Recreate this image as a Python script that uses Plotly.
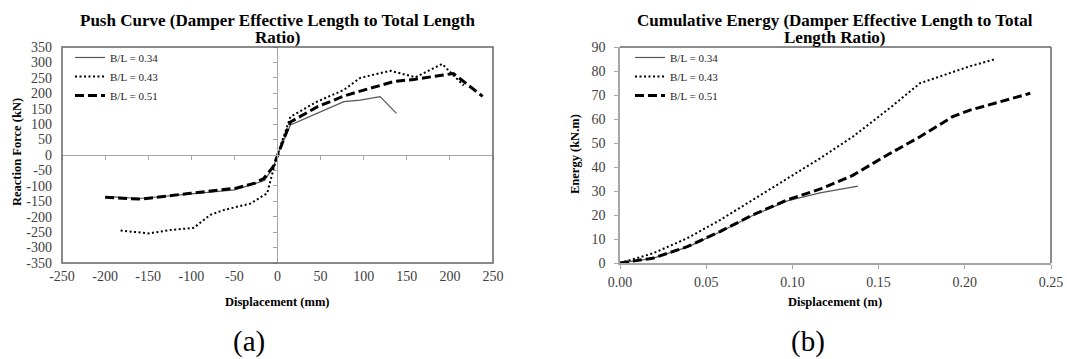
import plotly.graph_objects as go

# ---------------- data ----------------
series_names = ["B/L = 0.34", "B/L = 0.43", "B/L = 0.51"]

# (a) Push curve: displacement (mm) vs reaction force (kN)
push_d_034 = [-195, -160, -100, -50, -30, -15, -5, 0, 15, 46, 77, 96, 119, 138]
push_f_034 = [-135, -141, -126, -113, -96, -83, -40, 0, 97, 135, 173, 178, 189, 135]

push_d_043 = [-182, -149, -124, -97, -78, -62, -31, -12, -6, 0, 15, 46, 77, 96, 131, 160, 191, 216]
push_f_043 = [-245, -254, -243, -236, -194, -178, -157, -124, -60, 0, 124, 173, 211, 250, 273, 252, 295, 225]

push_d_051 = [-200, -159, -101, -49, -26, -16, -5, 0, 15, 46, 77, 96, 135, 158, 204, 238]
push_f_051 = [-137, -143, -124, -108, -91, -76, -38, 0, 107, 156, 191, 207, 238, 245, 264, 190]

# (b) Cumulative energy: displacement (m) vs energy (kN.m)
en_d_034 = [0, 0.019, 0.039, 0.058, 0.077, 0.097, 0.116, 0.138]
en_e_034 = [0, 1.9, 6.6, 12.9, 19.8, 25.9, 29.2, 32.0]

en_d_043 = [0, 0.019, 0.039, 0.058, 0.077, 0.097, 0.116, 0.135, 0.155, 0.174, 0.186, 0.203, 0.217]
en_e_043 = [0, 4.0, 10.3, 17.9, 26.3, 35.3, 43.6, 52.6, 63.7, 74.9, 77.9, 82.0, 84.8]

en_d_051 = [0, 0.019, 0.039, 0.058, 0.077, 0.097, 0.116, 0.135, 0.155, 0.174, 0.193, 0.203, 0.238]
en_e_051 = [0, 2.0, 6.8, 13.1, 20.0, 26.3, 30.8, 36.5, 45.0, 52.6, 61.0, 63.7, 70.7]

# ticks
push_x_vals = [-250, -200, -150, -100, -50, 0, 50, 100, 150, 200, 250]
push_x_text = ["-250", "-200", "-150", "-100", "-50", "0", "50", "100", "150", "200", "250"]
push_y_vals = [-350, -300, -250, -200, -150, -100, -50, 0, 50, 100, 150, 200, 250, 300, 350]
push_y_text = ["-350", "-300", "-250", "-200", "-150", "-100", "-50", "0", "50", "100", "150",
               "200", "250", "300", "350"]
en_x_vals = [0, 0.05, 0.10, 0.15, 0.20, 0.25]
en_x_text = ["0.00", "0.05", "0.10", "0.15", "0.20", "0.25"]
en_y_vals = [0, 10, 20, 30, 40, 50, 60, 70, 80, 90]
en_y_text = ["0", "10", "20", "30", "40", "50", "60", "70", "80", "90"]

# ---------------- styling ----------------
W, H = 1067, 359
SERIF = "Liberation Serif"
DARK = "#666666"
LIGHT = "#a6a6a6"
TICKC = "#404040"

styles = [
    dict(color="#555555", width=1.2, dash="solid"),
    dict(color="black", width=2.0, dash="2px,2.5px"),
    dict(color="black", width=3, dash="9px,4px"),
]

def px_x(p):
    return p / W

def px_y(p):
    return 1 - p / H

dom_xa = [px_x(62), px_x(493)]
dom_xb = [px_x(620), px_x(1051)]
dom_y = [px_y(263), px_y(47)]
mid_y = (dom_y[0] + dom_y[1]) / 2
mid_xa = (dom_xa[0] + dom_xa[1]) / 2

fig = go.Figure()

push = [(push_d_034, push_f_034), (push_d_043, push_f_043), (push_d_051, push_f_051)]
energy = [(en_d_034, en_e_034), (en_d_043, en_e_043), (en_d_051, en_e_051)]

# helper (empty) traces so the origin-crossing tick axes of (a) exist
fig.add_trace(go.Scatter(x=[], y=[], xaxis="x3", yaxis="y4", showlegend=False, hoverinfo="skip"))
fig.add_trace(go.Scatter(x=[], y=[], xaxis="x4", yaxis="y3", showlegend=False, hoverinfo="skip"))

for name, (xd, yd), st in zip(series_names, push, styles):
    fig.add_trace(go.Scatter(x=xd, y=yd, mode="lines", name=name, line=st,
                             xaxis="x", yaxis="y", legend="legend"))
for name, (xd, yd), st in zip(series_names, energy, styles):
    fig.add_trace(go.Scatter(x=xd, y=yd, mode="lines", name=name, line=st,
                             xaxis="x2", yaxis="y2", legend="legend2"))

tickfont = dict(family=SERIF, size=14, color=TICKC)
common = dict(showgrid=False, zeroline=False, automargin=False)

fig.update_layout(
    width=W, height=H,
    margin=dict(l=0, r=0, t=0, b=0),
    paper_bgcolor="white", plot_bgcolor="rgba(0,0,0,0)",
    showlegend=True,
    # ----- (a) tick-label axes on the frame -----
    xaxis=dict(domain=dom_xa, anchor="y", range=[-250, 250], tickmode="array",
               tickvals=push_x_vals, ticktext=push_x_text, ticks="", showline=False,
               tickfont=tickfont, ticklabelstandoff=3, **common),
    yaxis=dict(domain=dom_y, anchor="x", range=[-350, 350], tickmode="array",
               tickvals=push_y_vals, ticktext=push_y_text, ticks="", showline=False,
               tickfont=tickfont, ticklabelstandoff=9, **common),
    # ----- (a) axes through the origin (tick marks only) -----
    xaxis3=dict(domain=dom_xa, anchor="y4", range=[-250, 250], tickmode="array",
                tickvals=push_x_vals, showticklabels=False, ticks="outside", ticklen=4,
                tickcolor=LIGHT, showline=True, linecolor=LIGHT, linewidth=1, **common),
    yaxis4=dict(domain=[mid_y, dom_y[1]], anchor="x3", range=[0, 1], visible=False, **common),
    yaxis3=dict(domain=dom_y, anchor="x4", range=[-350, 350], tickmode="array",
                tickvals=push_y_vals, showticklabels=False, ticks="outside", ticklen=4,
                tickcolor=LIGHT, showline=True, linecolor=LIGHT, linewidth=1, side="left",
                **common),
    xaxis4=dict(domain=[mid_xa, dom_xa[1]], anchor="y3", range=[0, 1], visible=False, **common),
    # ----- (b) -----
    xaxis2=dict(domain=dom_xb, anchor="y2", range=[0, 0.25], tickmode="array",
                tickvals=en_x_vals, ticktext=en_x_text, ticks="outside", ticklen=4,
                tickcolor=LIGHT, showline=True, linecolor=LIGHT, linewidth=1.5,
                tickfont=tickfont, ticklabelstandoff=1, **common),
    yaxis2=dict(domain=dom_y, anchor="x2", range=[0, 90], tickmode="array",
                tickvals=en_y_vals, ticktext=en_y_text, ticks="outside", ticklen=4,
                tickcolor=LIGHT, showline=True, linecolor=LIGHT, linewidth=1.5,
                tickfont=tickfont, ticklabelstandoff=6, **common),
    legend=dict(x=px_x(70), y=px_y(43), xanchor="left", yanchor="top",
                bgcolor="rgba(0,0,0,0)", borderwidth=0,
                font=dict(family=SERIF, size=11, color="#222222"), tracegroupgap=0),
    legend2=dict(x=px_x(630), y=px_y(43), xanchor="left", yanchor="top",
                 bgcolor="rgba(0,0,0,0)", borderwidth=0,
                 font=dict(family=SERIF, size=11, color="#222222"), tracegroupgap=0),
)

# plot-area frames
fig.add_shape(type="rect", xref="x domain", yref="y domain", x0=0, x1=1, y0=0, y1=1,
              line=dict(color=DARK, width=1.5), layer="above")
fig.add_shape(type="line", xref="x2 domain", yref="y2 domain", x0=0, x1=1, y0=1, y1=1,
              line=dict(color=DARK, width=1.5), layer="above")
fig.add_shape(type="line", xref="x2 domain", yref="y2 domain", x0=1, x1=1, y0=0, y1=1,
              line=dict(color=DARK, width=1.5), layer="above")

title_font = dict(family=SERIF, size=17, color="black")
axt_font = dict(family=SERIF, size=12.5, color="black")
cx_a = (dom_xa[0] + dom_xa[1]) / 2
cx_b = (dom_xb[0] + dom_xb[1]) / 2
annots = [
    dict(text="<b>Push Curve (Damper Effective Length to Total Length</b>",
         x=cx_a, y=px_y(20), font=title_font),
    dict(text="<b>Ratio)</b>", x=cx_a, y=px_y(38), font=title_font),
    dict(text="<b>Cumulative Energy (Damper Effective Length to Total</b>",
         x=cx_b, y=px_y(20), font=title_font),
    dict(text="<b>Length Ratio)</b>", x=cx_b, y=px_y(38), font=title_font),
    dict(text="<b>Displacement (mm)</b>", x=cx_a, y=px_y(302), font=axt_font),
    dict(text="<b>Displacement (m)</b>", x=cx_b, y=px_y(302), font=axt_font),
    dict(text="<b>Reaction Force (kN)</b>", x=px_x(17), y=px_y(152), textangle=-90,
         font=axt_font),
    dict(text="<b>Energy (kN.m)</b>", x=px_x(575), y=px_y(154), textangle=-90,
         font=axt_font),
    dict(text="(a)", x=px_x(249), y=px_y(341),
         font=dict(family=SERIF, size=29, color="black")),
    dict(text="(b)", x=px_x(808), y=px_y(341),
         font=dict(family=SERIF, size=29, color="black")),
]
for a in annots:
    fig.add_annotation(xref="paper", yref="paper", showarrow=False,
                       xanchor="center", yanchor="middle", **a)

fig.write_html("out.html")
